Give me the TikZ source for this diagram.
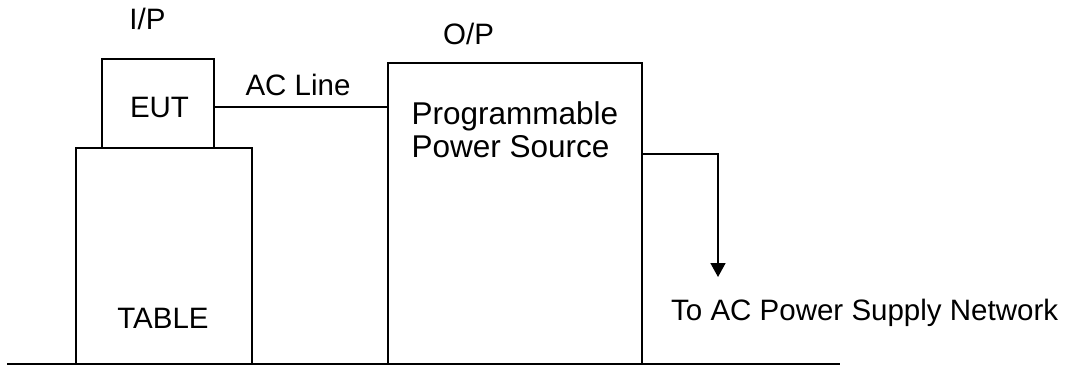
\documentclass[tikz,border=0pt]{standalone}
\usepackage{fontspec}
\setmainfont{Liberation Sans}
\usetikzlibrary{arrows.meta}
\begin{document}
\begin{tikzpicture}[x=1pt,y=-1pt,
  wire/.style={line width=1.6pt},
  block/.style={draw,line width=1.6pt,inner sep=0pt},
  lbl/.style={inner sep=0pt,font=\fontsize{29.5}{33}\selectfont},
  biglbl/.style={inner sep=0pt,align=left,font=\fontsize{31.5}{33}\selectfont}]
  \useasboundingbox (0,0) rectangle (1067,365);

  % equipment blocks
  \node[block,minimum width=112pt,minimum height=89pt] (eut) at (158,103.5) {};
  \node[block,minimum width=176pt,minimum height=216pt] (table) at (164,256) {};
  \node[block,minimum width=254pt,minimum height=301pt] (pps) at (515,213.5) {};

  % block captions (multi-line base sits on the last line)
  \node[lbl,anchor=base] (euttext) at (159.5,117) {EUT};
  \node[lbl,anchor=base] (tabletext) at (163,328) {TABLE};
  \node[biglbl,anchor=base west] (ppstext) at (411.5,157) {Programmable\\Power Source};

  % port and line labels
  \node[lbl,anchor=base] (ip) at (147.5,29) {I/P};
  \node[lbl,anchor=base west] (op) at (443,44) {O/P};
  \node[lbl,anchor=base] (acline) at (298,95) {AC Line};
  \node[lbl,anchor=base west] (network) at (671,320) {To AC Power Supply Network};

  % floor
  \coordinate (floorL) at (7,364);
  \coordinate (floorR) at (840,364);
  \draw[line width=1.8pt] (floorL) -- (floorR);

  % AC line between EUT and source
  \draw[wire] (eut.east |- 0,107) -- (pps.west |- 0,107);

  % output to the supply network
  \coordinate (bend) at (718,154);
  \coordinate (netend) at (718,277);
  \draw[wire,-{Triangle[width=15pt,length=14pt]}] (pps.east |- bend) -- (bend) -- (netend);
\end{tikzpicture}
\end{document}
